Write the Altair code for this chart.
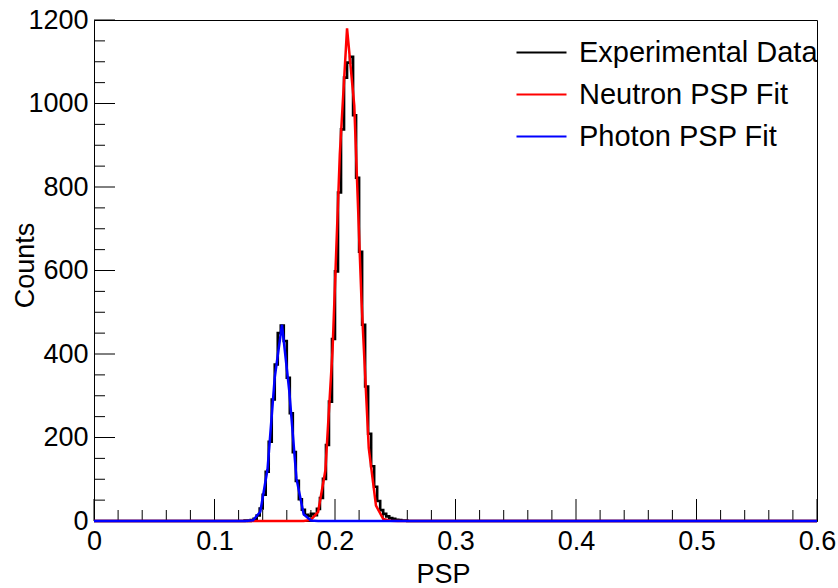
import altair as alt
import numpy as np
import pandas as pd

# ---------------- data ----------------
hist_start = 0.12
bin_width = 0.0025
hist_counts = [0, 0, 1, 0, 2, 5, 13, 30, 63, 118,
               190, 291, 375, 450, 468, 431, 343, 258, 165, 96,
               52, 27, 15, 12, 17, 14, 29, 55, 101, 182,
               286, 436, 598, 787, 938, 1062, 1098, 1112, 972, 822,
               645, 470, 322, 209, 131, 82, 48, 26, 17, 11,
               7, 5, 3, 2, 1, 1, 0]

neutron_fit_x = [0.000, 0.162, 0.168, 0.174, 0.180, 0.186, 0.192, 0.198, 0.204,
                 0.210, 0.216, 0.222, 0.228, 0.234, 0.240, 0.246, 0.252, 0.600]
neutron_fit_y = [0, 0, 0, 0.2, 2.6, 22, 121, 411, 879,
                 1180, 995, 527, 175, 37, 5, 0.4, 0, 0]

photon_fit_x = [0.000, 0.114, 0.120, 0.126, 0.132, 0.138, 0.144, 0.150, 0.156,
                0.162, 0.168, 0.174, 0.180, 0.186, 0.192, 0.600]
photon_fit_y = [0, 0, 0, 0.1, 1.9, 22, 124, 344, 470,
                313, 102, 16, 1.3, 0, 0, 0]

series_names = ["Experimental Data", "Neutron PSP Fit", "Photon PSP Fit"]
series_colors = ["#000000", "#ff0000", "#0000ff"]

x_major = [0, 0.1, 0.2, 0.3, 0.4, 0.5, 0.6]
x_minor = [0.02, 0.04, 0.06, 0.08, 0.12, 0.14, 0.16, 0.18, 0.22, 0.24, 0.26, 0.28,
           0.32, 0.34, 0.36, 0.38, 0.42, 0.44, 0.46, 0.48, 0.52, 0.54, 0.56, 0.58]
y_major = [0, 200, 400, 600, 800, 1000, 1200]
y_minor = [50, 100, 150, 250, 300, 350, 450, 500, 550, 650, 700, 750,
           850, 900, 950, 1050, 1100, 1150]

FONT = "Liberation Sans"

# ---------------- tables ----------------
edges = list(hist_start + bin_width * np.arange(len(hist_counts) + 1))
hx = [0.0] + edges + [0.6]
hy = [0] + hist_counts + [0, 0]
df_hist = pd.DataFrame({"x": hx, "y": hy, "series": series_names[0]})
df_n = pd.DataFrame({"x": neutron_fit_x, "y": neutron_fit_y, "series": series_names[1]})
df_p = pd.DataFrame({"x": photon_fit_x, "y": photon_fit_y, "series": series_names[2]})

xs = alt.Scale(domain=[0, 0.6], nice=False, zero=False)
ys = alt.Scale(domain=[0, 1200], nice=False)
cs = alt.Scale(domain=series_names, range=series_colors)

legend = alt.Legend(
    title=None, orient="none", legendX=421, legendY=6, direction="vertical",
    symbolType="stroke", symbolSize=2500, symbolStrokeWidth=2.2,
    labelFontSize=29, labelFont=FONT, labelColor="black", labelOffset=11,
    rowPadding=0, labelLimit=600,
)

x_axis = alt.Axis(values=x_major, format="~g", title="PSP", labelFlush=False,
                  labelOverlap=False, labelPadding=7, titleX=349, titleY=61,
                  titleFontSize=27,
                  titleBaseline="alphabetic", titleAlign="center")
y_axis = alt.Axis(values=y_major, format="d", title="Counts", labelFlush=False,
                  labelOverlap=False, labelPadding=6, titleAngle=270, titleX=-61,
                  titleY=245, titleFontSize=27,
                  titleBaseline="alphabetic", titleAlign="center")

X = lambda f: alt.X(f, scale=xs, axis=x_axis)
Y = lambda f: alt.Y(f, scale=ys, axis=y_axis)
C = alt.Color("series:N", scale=cs, legend=legend)

hist = alt.Chart(df_hist).mark_line(interpolate="step-after", strokeWidth=2.6).encode(
    x=X("x:Q"), y=Y("y:Q"), color=C)
neut = alt.Chart(df_n).mark_line(strokeWidth=2.5).encode(x=X("x:Q"), y=Y("y:Q"), color=C)
phot = alt.Chart(df_p).mark_line(strokeWidth=2.5).encode(x=X("x:Q"), y=Y("y:Q"), color=C)

ymaj = alt.Chart(pd.DataFrame({"y": y_major})).mark_rule(color="black", strokeWidth=1).encode(
    y=Y("y:Q"), x=alt.value(0), x2=alt.value(21))
ymin = alt.Chart(pd.DataFrame({"y": y_minor})).mark_rule(color="black", strokeWidth=1).encode(
    y=Y("y:Q"), x=alt.value(0), x2=alt.value(11))
xmaj = alt.Chart(pd.DataFrame({"x": x_major})).mark_rule(color="black", strokeWidth=1).encode(
    x=X("x:Q"), y=alt.value(501), y2=alt.value(479))
xmin = alt.Chart(pd.DataFrame({"x": x_minor})).mark_rule(color="black", strokeWidth=1).encode(
    x=X("x:Q"), y=alt.value(501), y2=alt.value(490))

chart = alt.layer(hist, ymaj, ymin, xmaj, xmin, neut, phot).properties(
    width=723, height=501,
    autosize=alt.AutoSizeParams(type="none"),
    padding={"left": 94, "top": 20, "right": 21, "bottom": 67},
    background="white",
).configure_view(
    stroke="black", strokeWidth=1
).configure_axis(
    grid=False, ticks=False, domainColor="black", domainWidth=1,
    labelFont=FONT, labelFontSize=27, labelColor="black",
    titleFont=FONT, titleFontSize=26, titleFontWeight="normal", titleColor="black",
)

chart.save("out.html", embed_options={"renderer": "svg", "actions": False})
